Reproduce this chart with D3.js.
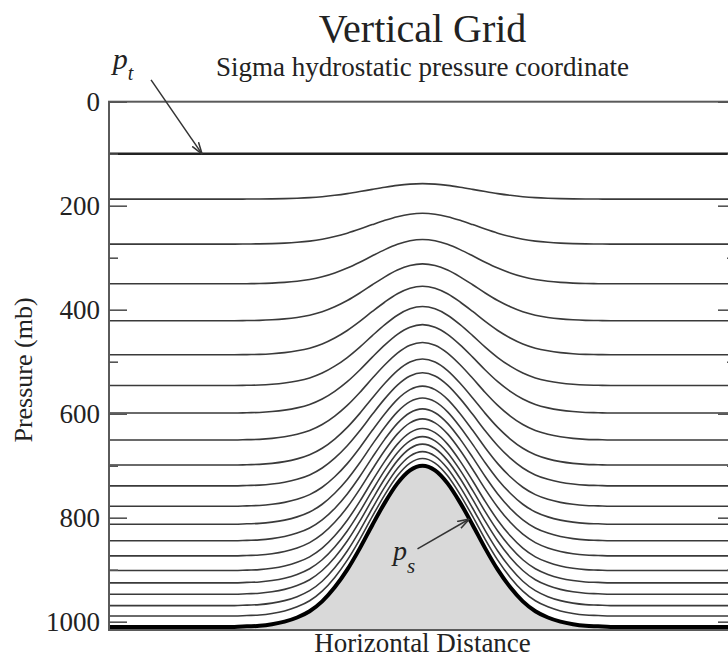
<!DOCTYPE html>
<html>
<head>
<meta charset="utf-8">
<script src="https://cdn.jsdelivr.net/npm/d3@7/dist/d3.min.js"></script>
<style>
  html, body { margin: 0; padding: 0; background: #fff; }
  svg { display: block; }
  text { font-family: "Liberation Serif", "Times New Roman", serif; fill: #222; }
</style>
</head>
<body>
<svg id="chart" width="728" height="660"></svg>
<script>
// ---------- data ----------
const titleText = "Vertical Grid";
const subtitleText = "Sigma hydrostatic pressure coordinate";
const xLabel = "Horizontal Distance";
const yLabel = "Pressure (mb)";

const majorTicks = [0, 200, 400, 600, 800, 1000];
const minorTicks = [100, 300, 500, 700, 900];

// model top pressure (mb)
const topPressure = 100;

// horizontal positions (arbitrary distance units) and surface pressure there (mb)
const distance = [0, 10, 20, 22, 24, 26, 28, 30, 32, 34, 36, 38, 40, 42, 44, 46, 48, 50,
                  52, 54, 56, 58, 60, 62, 64, 66, 68, 70, 72, 74, 76, 78, 80, 90, 100];
const surfacePressure = [1010, 1010, 1010, 1009, 1008, 1005, 1000, 992, 980, 961, 934, 900, 859, 814, 771, 734, 709, 700,
                         709, 734, 771, 814, 859, 900, 934, 961, 980, 992, 1000, 1005, 1008, 1009, 1010, 1010, 1010];

// intermediate sigma levels (0 = model top, 1 = surface)
const sigmaLevels = [0.096, 0.191, 0.275, 0.353, 0.425, 0.490, 0.548, 0.605, 0.658, 0.702,
                     0.745, 0.783, 0.818, 0.850, 0.881, 0.907, 0.931, 0.955, 0.977];

// annotations in data units [distance, pressure]
const ptArrow = [[6.7, -42], [14.8, 100]];
const ptLabelPos = [0.6, -63];
const psArrow = [[49.2, 860], [57.4, 803]];
const psLabelPos = [45.3, 882];

// ---------- layout ----------
const svg = d3.select("#chart");
const pLeft = 109, pRight = 736, pTop = 101.7, pBottom = 630;

const x = d3.scaleLinear().domain([0, 100]).range([pLeft, pRight]);
const y = d3.scaleLinear().domain([0, 1016]).range([pTop, pBottom]);

const pts = distance.map((d, i) => ({ d, ps: surfacePressure[i] }));
const line = d3.line().x(p => x(p[0])).y(p => y(p[1])).curve(d3.curveMonotoneX);

// defs: arrow marker
const defs = svg.append("defs");
defs.append("marker")
  .attr("id", "arrow")
  .attr("viewBox", "0 0 10 10")
  .attr("refX", 9.5).attr("refY", 5)
  .attr("markerWidth", 12).attr("markerHeight", 12)
  .attr("markerUnits", "userSpaceOnUse")
  .attr("orient", "auto")
  .append("path")
  .attr("d", "M0,1.8 L10,5 L0,8.2")
  .attr("fill", "none")
  .attr("stroke", "#333")
  .attr("stroke-width", 1.3);

defs.append("clipPath").attr("id", "plotclip")
  .append("rect").attr("x", pLeft).attr("y", pTop).attr("width", pRight - pLeft).attr("height", pBottom - pTop);

const plot = svg.append("g").attr("clip-path", "url(#plotclip)");

// terrain fill below surface pressure
const area = d3.area()
  .x(p => x(p.d))
  .y0(y(1016))
  .y1(p => y(p.ps))
  .curve(d3.curveMonotoneX);
plot.append("path").datum(pts).attr("d", area).attr("fill", "#d9d9d9");

// sigma levels
plot.selectAll("path.sigma")
  .data(sigmaLevels)
  .join("path")
  .attr("class", "sigma")
  .attr("d", s => line(pts.map(p => [p.d, topPressure + s * (p.ps - topPressure)])))
  .attr("fill", "none")
  .attr("stroke", "#3a3a3a")
  .attr("stroke-width", 1.6);

// model top
plot.append("path")
  .attr("d", line(pts.map(p => [p.d, topPressure])))
  .attr("fill", "none").attr("stroke", "#222").attr("stroke-width", 2.6);

// surface
plot.append("path")
  .attr("d", line(pts.map(p => [p.d, p.ps])))
  .attr("fill", "none").attr("stroke", "#000").attr("stroke-width", 4);

// frame
svg.append("rect")
  .attr("x", pLeft).attr("y", pTop).attr("width", pRight - pLeft).attr("height", pBottom - pTop)
  .attr("fill", "none").attr("stroke", "#5a5a5a").attr("stroke-width", 2);

// axes (ticks pointing inward)
function styleAxis(g) {
  g.select(".domain").remove();
  g.selectAll(".tick line").attr("stroke", "#555").attr("stroke-width", 1.6);
  g.selectAll(".tick text")
    .attr("font-family", "Liberation Serif, Times New Roman, serif")
    .attr("font-size", 27).attr("fill", "#222");
}
svg.append("g").attr("transform", `translate(${pLeft},0)`)
  .call(d3.axisLeft(y).tickValues(majorTicks).tickSize(-18).tickPadding(9).tickFormat(d3.format("d")))
  .call(styleAxis);
svg.append("g").attr("transform", `translate(${pLeft},0)`)
  .call(d3.axisLeft(y).tickValues(minorTicks).tickSize(-9).tickFormat(""))
  .call(styleAxis);
svg.append("g").attr("transform", `translate(${pRight},0)`)
  .call(d3.axisRight(y).tickValues(majorTicks).tickSize(-18).tickFormat(""))
  .call(styleAxis);
svg.append("g").attr("transform", `translate(${pRight},0)`)
  .call(d3.axisRight(y).tickValues(minorTicks).tickSize(-9).tickFormat(""))
  .call(styleAxis);

// titles
const cx = (pLeft + pRight) / 2;
svg.append("text").attr("x", cx).attr("y", 42).attr("text-anchor", "middle")
  .attr("font-size", 40).text(titleText);
svg.append("text").attr("x", cx).attr("y", 76).attr("text-anchor", "middle")
  .attr("font-size", 27).text(subtitleText);
svg.append("text").attr("x", cx).attr("y", 652).attr("text-anchor", "middle")
  .attr("font-size", 27).text(xLabel);
svg.append("text").attr("transform", `translate(32,370) rotate(-90)`).attr("text-anchor", "middle")
  .attr("font-size", 26).text(yLabel);

// annotations
svg.append("line")
  .attr("x1", x(ptArrow[0][0])).attr("y1", y(ptArrow[0][1]))
  .attr("x2", x(ptArrow[1][0])).attr("y2", y(ptArrow[1][1]))
  .attr("stroke", "#333").attr("stroke-width", 1.5).attr("marker-end", "url(#arrow)");
svg.append("line")
  .attr("x1", x(psArrow[0][0])).attr("y1", y(psArrow[0][1]))
  .attr("x2", x(psArrow[1][0])).attr("y2", y(psArrow[1][1]))
  .attr("stroke", "#333").attr("stroke-width", 1.5).attr("marker-end", "url(#arrow)");

const ptLabel = svg.append("text").attr("x", x(ptLabelPos[0])).attr("y", y(ptLabelPos[1]))
  .attr("font-style", "italic").attr("font-size", 30);
ptLabel.append("tspan").text("p");
ptLabel.append("tspan").attr("font-size", 20).attr("dy", 11).text("t");

const psLabel = svg.append("text").attr("x", x(psLabelPos[0])).attr("y", y(psLabelPos[1]))
  .attr("font-style", "italic").attr("font-size", 28);
psLabel.append("tspan").text("p");
psLabel.append("tspan").attr("font-size", 21).attr("dy", 13).text("s");
</script>
</body>
</html>
